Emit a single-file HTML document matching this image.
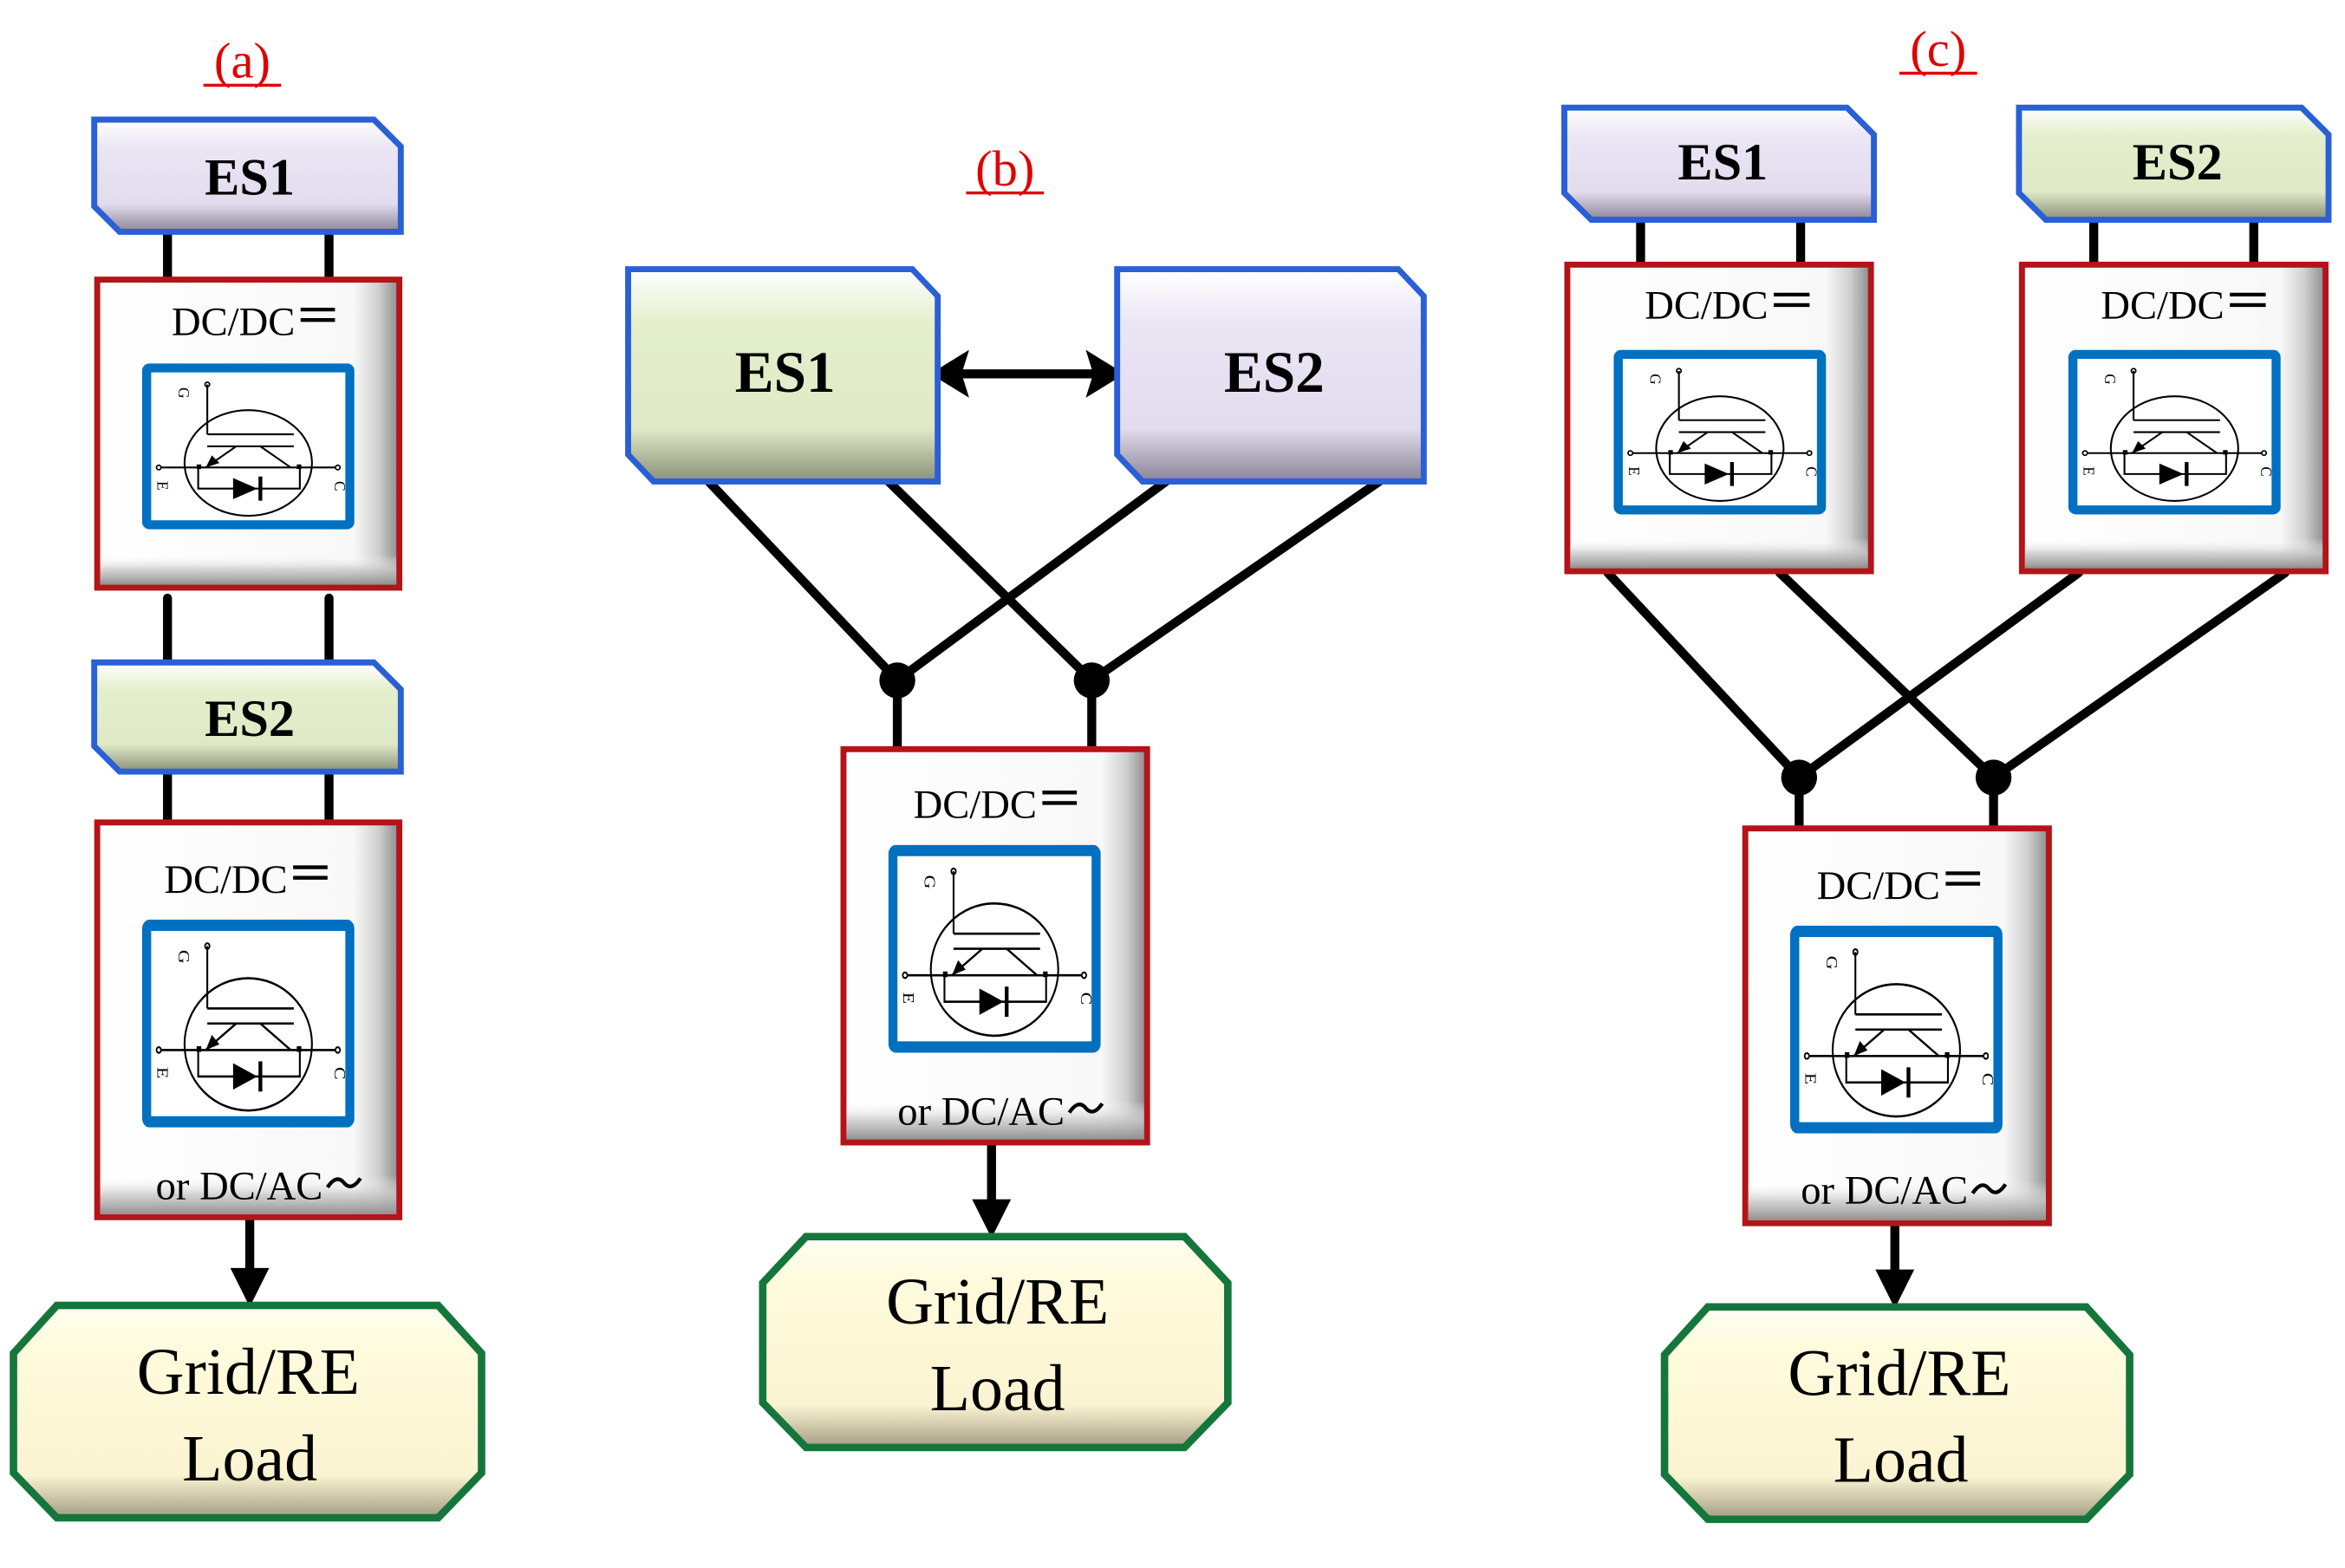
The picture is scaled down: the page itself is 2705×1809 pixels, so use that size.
<!DOCTYPE html>
<html><head><meta charset="utf-8"><style>
html,body{margin:0;padding:0;background:#fff;width:2705px;height:1809px;overflow:hidden}
svg{display:block}
text{font-family:"Liberation Serif",serif}
</style></head><body>
<svg width="2705" height="1809" viewBox="0 0 1568 1048.6" preserveAspectRatio="none" xmlns="http://www.w3.org/2000/svg">
<defs>
<linearGradient id="lav" x1="0" y1="0" x2="0" y2="1"><stop offset="0" stop-color="#ffffff"/><stop offset="0.25" stop-color="#ebe6f4"/><stop offset="0.75" stop-color="#e2dcee"/><stop offset="1" stop-color="#8a8496"/></linearGradient>
<linearGradient id="grn" x1="0" y1="0" x2="0" y2="1"><stop offset="0" stop-color="#ffffff"/><stop offset="0.25" stop-color="#e4efcc"/><stop offset="0.75" stop-color="#dfe9c6"/><stop offset="1" stop-color="#8a9078"/></linearGradient>
<linearGradient id="crm" x1="0" y1="0" x2="0" y2="1"><stop offset="0" stop-color="#fffff4"/><stop offset="0.2" stop-color="#fffbdc"/><stop offset="0.8" stop-color="#fbf4d2"/><stop offset="1" stop-color="#a39c84"/></linearGradient>
<linearGradient id="wr" x1="0" y1="0" x2="1" y2="0"><stop offset="0" stop-color="#ffffff"/><stop offset="0.85" stop-color="#f8f8f8"/><stop offset="0.93" stop-color="#d0d0d0"/><stop offset="1" stop-color="#8a8a8a"/></linearGradient>
<linearGradient id="wb" x1="0" y1="0" x2="0" y2="1"><stop offset="0" stop-color="#fff" stop-opacity="0"/><stop offset="0.9" stop-color="#fff" stop-opacity="0"/><stop offset="0.95" stop-color="#c8c8c8" stop-opacity="0.8"/><stop offset="1" stop-color="#909090"/></linearGradient>
<symbol id="igbt" viewBox="0 0 140 110" preserveAspectRatio="none">
<rect x="3" y="3" width="134" height="104" fill="#fff" stroke="#0070c0" stroke-width="6" rx="2"/>
<ellipse cx="70" cy="66" rx="42" ry="35" fill="none" stroke="#000" stroke-width="1.2"/>
<line x1="43" y1="14" x2="43" y2="47" stroke="#000" stroke-width="1.2"/>
<circle cx="43" cy="14" r="1.5" fill="none" stroke="#000"/>
<line x1="43" y1="47" x2="100" y2="47" stroke="#000" stroke-width="1.2"/>
<line x1="43" y1="55" x2="100" y2="55" stroke="#000" stroke-width="1.2"/>
<line x1="62" y1="55" x2="42" y2="69" stroke="#000" stroke-width="1.2"/>
<polygon points="42,69 46,61 51,66" fill="#000"/>
<line x1="78" y1="55" x2="98" y2="69" stroke="#000" stroke-width="1.2"/>
<line x1="11" y1="69" x2="129" y2="69" stroke="#000" stroke-width="1.2"/>
<circle cx="11" cy="69" r="1.5" fill="#fff" stroke="#000"/>
<circle cx="129" cy="69" r="1.5" fill="#fff" stroke="#000"/>
<rect x="36" y="67" width="3" height="3" fill="#000"/>
<rect x="102" y="67" width="3" height="3" fill="#000"/>
<polyline points="37,69 37,83 104,83 104,69" fill="none" stroke="#000" stroke-width="1.2"/>
<polygon points="60,76 60,90 76,83" fill="#000"/>
<line x1="78" y1="75" x2="78" y2="91" stroke="#000" stroke-width="2.5"/>
<text x="24" y="16" font-size="10" transform="rotate(90 24 16)" font-family="Liberation Sans,sans-serif">G</text>
<text x="10" y="78" font-size="10" transform="rotate(90 10 78)" font-family="Liberation Sans,sans-serif">E</text>
<text x="127" y="78" font-size="10" transform="rotate(90 127 78)" font-family="Liberation Sans,sans-serif">C</text>
</symbol>
</defs>

<g stroke="#000" stroke-width="6" stroke-linecap="round" fill="none">
<line x1="112" y1="150" x2="112" y2="186"/><line x1="220" y1="150" x2="220" y2="186"/>
<line x1="112" y1="400" x2="112" y2="445"/><line x1="220" y1="400" x2="220" y2="445"/>
<line x1="112" y1="512" x2="112" y2="550"/><line x1="220" y1="512" x2="220" y2="550"/>
<line x1="470" y1="318" x2="600" y2="455"/><line x1="590" y1="318" x2="730" y2="455"/>
<line x1="785" y1="318" x2="600" y2="455"/><line x1="928" y1="318" x2="730" y2="455"/>
<line x1="600" y1="455" x2="600" y2="500"/><line x1="730" y1="455" x2="730" y2="500"/>
<line x1="1097" y1="140" x2="1097" y2="178"/><line x1="1204" y1="140" x2="1204" y2="178"/>
<line x1="1400" y1="140" x2="1400" y2="178"/><line x1="1507" y1="140" x2="1507" y2="178"/>
<line x1="1075" y1="383" x2="1203" y2="520"/><line x1="1190" y1="383" x2="1333" y2="520"/>
<line x1="1390" y1="383" x2="1203" y2="520"/><line x1="1528" y1="383" x2="1333" y2="520"/>
<line x1="1203" y1="520" x2="1203" y2="555"/><line x1="1333" y1="520" x2="1333" y2="555"/>
</g>
<g fill="#000"><circle cx="600" cy="455" r="12"/><circle cx="730" cy="455" r="12"/><circle cx="1203" cy="520" r="12"/><circle cx="1333" cy="520" r="12"/></g>

<g stroke="#000" stroke-width="6">
<line x1="167" y1="815" x2="167" y2="860"/><line x1="663" y1="765" x2="663" y2="814"/><line x1="1267" y1="818" x2="1267" y2="861"/>
<line x1="640" y1="250" x2="734" y2="250"/>
</g>
<g fill="#000">
<polygon points="154,848 180,848 167,874"/><polygon points="650,802 676,802 663,828"/><polygon points="1254,849 1280,849 1267,875"/>
<polygon points="622,250 648,234 643,250 648,266"/><polygon points="752,250 726,234 731,250 726,266"/>
</g>

<g stroke="#2a5fd6" stroke-width="4" stroke-linejoin="miter">
<polygon points="63,80 250,80 268,98 268,155 80,155 63,138" fill="url(#lav)"/>
<polygon points="63,443 250,443 268,461 268,516 80,516 63,499" fill="url(#grn)"/>
<polygon points="420,180 610,180 627,198 627,322 437,322 420,304" fill="url(#grn)"/>
<polygon points="747,180 935,180 952,198 952,322 764,322 747,304" fill="url(#lav)"/>
<polygon points="1046,72 1235,72 1253,90 1253,147 1064,147 1046,129" fill="url(#lav)"/>
<polygon points="1350,72 1539,72 1557,90 1557,147 1368,147 1350,129" fill="url(#grn)"/>
</g>
<g font-weight="bold" font-size="35" text-anchor="middle">
<text x="167" y="130">ES1</text><text x="167" y="492">ES2</text>
<text x="525" y="262" font-size="39">ES1</text><text x="852" y="262" font-size="39">ES2</text>
<text x="1152" y="120">ES1</text><text x="1456" y="120">ES2</text>
</g>

<g stroke="#b3141a" stroke-width="4">
<rect x="65" y="187" width="202" height="206" fill="url(#wr)"/>
<rect x="65" y="550" width="202" height="264" fill="url(#wr)"/>
<rect x="564" y="501" width="203" height="263" fill="url(#wr)"/>
<rect x="1048" y="177" width="203" height="205" fill="url(#wr)"/>
<rect x="1352" y="177" width="203" height="205" fill="url(#wr)"/>
<rect x="1167" y="554" width="203" height="264" fill="url(#wr)"/>
</g>
<g>
<rect x="67" y="189" width="198" height="202" fill="url(#wb)"/>
<rect x="67" y="552" width="198" height="260" fill="url(#wb)"/>
<rect x="566" y="503" width="199" height="259" fill="url(#wb)"/>
<rect x="1050" y="179" width="199" height="201" fill="url(#wb)"/>
<rect x="1354" y="179" width="199" height="201" fill="url(#wb)"/>
<rect x="1169" y="556" width="199" height="260" fill="url(#wb)"/>
</g>
<use href="#igbt" x="95" y="243" width="142" height="111"/>
<use href="#igbt" x="95" y="615" width="142" height="139"/>
<use href="#igbt" x="594" y="565" width="142" height="139"/>
<use href="#igbt" x="1079" y="234" width="142" height="110"/>
<use href="#igbt" x="1383" y="234" width="142" height="110"/>
<use href="#igbt" x="1197" y="619" width="142" height="139"/>
<g font-size="27" text-anchor="middle">
<text x="156" y="224">DC/DC</text><text x="151" y="597">DC/DC</text><text x="652" y="547">DC/DC</text>
<text x="1141" y="213">DC/DC</text><text x="1446" y="213">DC/DC</text><text x="1256" y="601">DC/DC</text>
<text x="160" y="802">or DC/AC</text><text x="656" y="752">or DC/AC</text><text x="1260" y="805">or DC/AC</text>
</g>
<g stroke="#000" stroke-width="2.5">
<line x1="201" y1="207" x2="224" y2="207"/><line x1="201" y1="214" x2="224" y2="214"/>
<line x1="196" y1="580" x2="219" y2="580"/><line x1="196" y1="587" x2="219" y2="587"/>
<line x1="697" y1="530" x2="720" y2="530"/><line x1="697" y1="537" x2="720" y2="537"/>
<line x1="1186" y1="197" x2="1210" y2="197"/><line x1="1186" y1="204" x2="1210" y2="204"/>
<line x1="1491" y1="197" x2="1515" y2="197"/><line x1="1491" y1="204" x2="1515" y2="204"/>
<line x1="1301" y1="584" x2="1324" y2="584"/><line x1="1301" y1="591" x2="1324" y2="591"/>
</g>
<g fill="none" stroke="#000" stroke-width="2.5">
<path d="M219,794 q6,-9 11,-3 t11,-3"/><path d="M715,744 q6,-9 11,-3 t11,-3"/><path d="M1319,798 q6,-9 11,-3 t11,-3"/>
</g>

<g stroke="#15763c" stroke-width="5" fill="url(#crm)">
<polygon points="38,873 293,873 322,905 322,985 293,1015 38,1015 9,985 9,905"/>
<polygon points="539,827 792,827 821,858 821,938 792,968 539,968 510,938 510,858"/>
<polygon points="1142,874 1395,874 1424,906 1424,986 1395,1016 1142,1016 1113,986 1113,906"/>
</g>
<g font-size="44" text-anchor="middle">
<text x="166" y="932">Grid/RE</text><text x="167" y="990">Load</text>
<text x="667" y="885">Grid/RE</text><text x="667" y="943">Load</text>
<text x="1270" y="933">Grid/RE</text><text x="1271" y="991">Load</text>
</g>

<g fill="#e00000" font-size="34" text-anchor="middle">
<text x="162" y="52">(a)</text><text x="672" y="124">(b)</text><text x="1296" y="44">(c)</text>
</g>
<g stroke="#e00000" stroke-width="2">
<line x1="136" y1="57" x2="188" y2="57"/><line x1="646" y1="129" x2="698" y2="129"/><line x1="1270" y1="49" x2="1322" y2="49"/>
</g>
</svg>
</body></html>
